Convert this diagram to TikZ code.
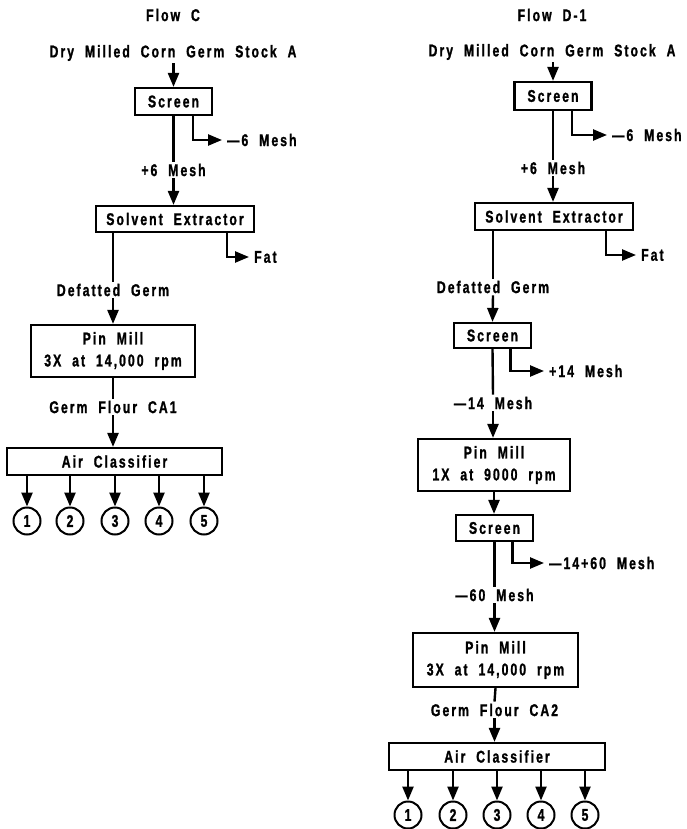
\documentclass[tikz,border=0pt]{standalone}
\usepackage{fontspec}
\setmainfont{Liberation Sans Bold}[FakeStretch=0.72, FakeBold=1.2, LetterSpace=12, WordSpace=2]
\usetikzlibrary{arrows.meta}
\tikzset{
  txt/.style={font=\fontsize{17}{22}\selectfont},
  lbl/.style={txt, inner sep=2pt},
  side/.style={lbl, anchor=west, inner xsep=5pt},
  box/.style={txt, draw, line width=2.2pt, inner sep=0pt, align=center},
  ln/.style={line width=2.4pt},
  arr/.style={line width=2.4pt, -{Triangle[length=14pt,width=11pt]}},
  num/.style={txt, circle, draw, line width=2pt, minimum size=27pt, inner sep=0pt},
}
\begin{document}
\begin{tikzpicture}[x=1pt,y=-1pt]
\useasboundingbox (0,0) rectangle (687,829);

% ---------------- Flow C ----------------
\node[lbl] (flowC) at (173,15) {Flow C};
\node[lbl] (srcC) at (173,53) {Dry Milled Corn Germ Stock A};
\node[box, minimum width=77, minimum height=27] (scrC) at (173.5,101.5) {Screen};
\draw[arr] (srcC.south -| scrC.north) -- (scrC.north);
\node[lbl] (p6C) at (173.5,170) {+6 Mesh};
\draw[ln] (scrC.south) -- (p6C.north);
\node[side] (m6C) at (222,140) {\textemdash6 Mesh};
\draw[arr] ([xshift=19.5pt]scrC.south) |- (m6C.west);
\node[box, minimum width=158, minimum height=26] (sexC) at (175,219) {Solvent Extractor};
\draw[arr] (p6C.south) -- (p6C.south |- sexC.north);
\node[side] (fatC) at (249,257) {Fat};
\draw[arr] ([xshift=-28pt]sexC.south east) |- (fatC.west);
\node[lbl] (dgC) at (113,290) {Defatted Germ};
\draw[ln] (dgC.north |- sexC.south) -- (dgC.north);
\node[box, minimum width=164, minimum height=52] (pmC) at (113,351) {Pin Mill\\3X at 14,000 rpm};
\draw[arr] (dgC.south) -- (pmC.north);
\node[lbl] (gfC) at (113,407) {Germ Flour CA1};
\draw[ln] (pmC.south) -- (gfC.north);
\node[box, minimum width=215, minimum height=27] (acC) at (114.5,461.5) {Air Classifier};
\draw[arr] (gfC.south) -- (gfC.south |- acC.north);
\foreach \i/\x in {1/27,2/70,3/115,4/159,5/204}{
  \node[num] (cC\i) at (\x,521) {\i};
  \draw[arr] (acC.south -| cC\i.north) -- (cC\i.north);
}

% ---------------- Flow D-1 ----------------
\node[lbl] (flowD) at (552,15) {Flow D-1};
\node[lbl] (srcD) at (552,52) {Dry Milled Corn Germ Stock A};
\node[box, minimum width=77, minimum height=28] (scrDa) at (553,96) {Screen};
\draw[arr] (srcD.south -| scrDa.north) -- (scrDa.north);
\node[lbl] (p6D) at (553,168) {+6 Mesh};
\draw[ln] (scrDa.south) -- (p6D.north);
\node[side] (m6D) at (607,135) {\textemdash6 Mesh};
\draw[arr] ([xshift=19pt]scrDa.south) |- (m6D.west);
\node[box, minimum width=158, minimum height=27] (sexD) at (554,216.5) {Solvent Extractor};
\draw[arr] (p6D.south) -- (p6D.south |- sexD.north);
\node[side] (fatD) at (636,255) {Fat};
\draw[arr] ([xshift=-28pt]sexD.south east) |- (fatD.west);
\node[lbl] (dgD) at (493,287) {Defatted Germ};
\draw[ln] (dgD.north |- sexD.south) -- (dgD.north);
\node[box, minimum width=77, minimum height=25] (scrDb) at (492.5,335.5) {Screen};
\draw[arr] (dgD.south) -- (scrDb.north);
\node[side] (p14D) at (544,371) {+14 Mesh};
\draw[arr] ([xshift=18pt]scrDb.south) |- (p14D.west);
\node[lbl] (m14D) at (493,403) {\textemdash14 Mesh};
\draw[ln] (scrDb.south) -- (m14D.north);
\node[box, minimum width=152, minimum height=52] (pmDa) at (494,465) {Pin Mill\\1X at 9000 rpm};
\draw[arr] (m14D.south) -- (m14D.south |- pmDa.north);
\node[box, minimum width=77, minimum height=26] (scrDc) at (494.5,528) {Screen};
\draw[arr] (pmDa.south) -- (pmDa.south |- scrDc.north);
\node[side] (m1460D) at (544,563) {\textemdash14+60 Mesh};
\draw[arr] ([xshift=18pt]scrDc.south) |- (m1460D.west);
\node[lbl] (m60D) at (494.5,595) {\textemdash60 Mesh};
\draw[ln] (scrDc.south) -- (m60D.north);
\node[box, minimum width=165, minimum height=54] (pmDb) at (495.5,660) {Pin Mill\\3X at 14,000 rpm};
\draw[arr] (m60D.south) -- (m60D.south |- pmDb.north);
\node[lbl] (gfD) at (494.5,710) {Germ Flour CA2};
\draw[ln] (pmDb.south) -- (gfD.north);
\node[box, minimum width=216, minimum height=27] (acD) at (497,756.5) {Air Classifier};
\draw[arr] (gfD.south) -- (gfD.south |- acD.north);
\foreach \i/\x in {1/408,2/453,3/497,4/541,5/585}{
  \node[num] (cD\i) at (\x,815) {\i};
  \draw[arr] (acD.south -| cD\i.north) -- (cD\i.north);
}
\end{tikzpicture}
\end{document}
